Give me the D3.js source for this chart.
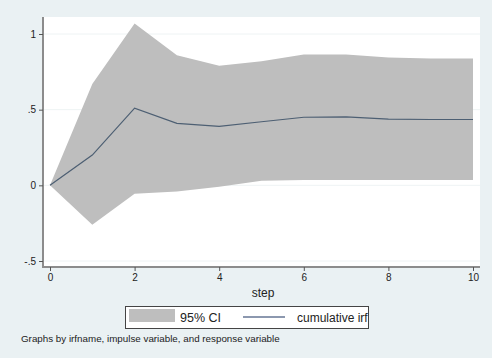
<!DOCTYPE html>
<html>
<head>
<meta charset="utf-8">
<script src="https://cdn.jsdelivr.net/npm/d3@7"></script>
<style>
  body { margin: 0; background: #eaf1f3; }
  svg { display: block; font-family: Arial, "Liberation Sans", sans-serif; }
</style>
</head>
<body>
<div class="canvas"></div>
<script>
const steps = [0, 1, 2, 3, 4, 5, 6, 7, 8, 9, 10];
const irf   = [0, 0.20, 0.51, 0.41, 0.39, 0.42, 0.45, 0.452, 0.438, 0.435, 0.435];
const upper = [0, 0.67, 1.07, 0.86, 0.79, 0.82, 0.865, 0.865, 0.845, 0.838, 0.838];
const lower = [0, -0.26, -0.055, -0.04, -0.01, 0.03, 0.035, 0.035, 0.035, 0.035, 0.035];
const xTicks = [0, 2, 4, 6, 8, 10];
const yTicks = [-0.5, 0, 0.5, 1];
const yLabels = ['-.5', '0', '.5', '1'];

const dims = { width: 492, height: 358 };
const plot = { left: 44, right: 480, top: 17, bottom: 266 };

const svg = d3.select('.canvas')
    .append('svg')
    .attr('width', dims.width)
    .attr('height', dims.height)
;

svg.append('rect')
    .attr('width', dims.width)
    .attr('height', dims.height)
    .attr('fill', '#eaf1f3')
;

svg.append('rect')
    .attr('x', plot.left)
    .attr('y', plot.top)
    .attr('width', plot.right - plot.left)
    .attr('height', plot.bottom - plot.top)
    .attr('fill', '#fff')
;

const x = d3.scaleLinear().domain([0, 10]).range([50, 473]);
const y = d3.scaleLinear().domain([-0.5, 1]).range([261, 34]);

// faint grid lines
svg.append('g')
    .selectAll('line')
    .data(yTicks)
    .enter()
    .append('line')
        .attr('x1', plot.left)
        .attr('x2', plot.right)
        .attr('y1', d => y(d))
        .attr('y2', d => y(d))
        .attr('stroke', '#eef3f4')
        .attr('stroke-width', 1)
;

const rows = steps.map((s, i) => ({ s, irf: irf[i], lo: lower[i], hi: upper[i] }));

const area = d3.area()
    .x(d => x(d.s))
    .y0(d => y(d.lo))
    .y1(d => y(d.hi))
;

svg.append('path')
    .datum(rows)
    .attr('d', area)
    .attr('fill', '#bebebe')
;

const line = d3.line()
    .x(d => x(d.s))
    .y(d => y(d.irf))
;

svg.append('path')
    .datum(rows)
    .attr('d', line)
    .attr('fill', 'none')
    .attr('stroke', '#4d5f73')
    .attr('stroke-width', 1.2)
;

// axes
const xAxis = svg.append('g')
    .attr('transform', `translate(0, ${plot.bottom + 1})`)
    .call(d3.axisBottom(x).tickValues(xTicks).tickSize(4).tickPadding(3).tickFormat(d3.format('d')))
;
xAxis.select('.domain').attr('d', `M${plot.left - 1},0H${plot.right}`).attr('stroke', '#8c8c8c').attr('stroke-width', 2);

const yAxis = svg.append('g')
    .attr('transform', `translate(${plot.left - 1}, 0)`)
    .call(d3.axisLeft(y).tickValues(yTicks).tickSize(4).tickPadding(3).tickFormat((d, i) => yLabels[i]))
;
yAxis.select('.domain').attr('d', `M0,${plot.top}V${plot.bottom + 2}`).attr('stroke', '#8c8c8c').attr('stroke-width', 2);

svg.selectAll('.tick line').attr('stroke', '#555');
svg.selectAll('.tick text').attr('fill', '#222').style('font-size', '10px').style('font-family', 'Arial, "Liberation Sans", sans-serif');

svg.append('text')
    .attr('x', (plot.left + plot.right) / 2 + 1)
    .attr('y', 297)
    .attr('text-anchor', 'middle')
    .attr('font-size', 12)
    .attr('fill', '#222')
    .text('step')
;

// legend
const legend = svg.append('g');
legend.append('rect')
    .attr('x', 125.5).attr('y', 306.5)
    .attr('width', 243).attr('height', 22)
    .attr('fill', '#fff')
    .attr('stroke', '#444')
    .attr('stroke-width', 1)
;
legend.append('rect')
    .attr('x', 129).attr('y', 309)
    .attr('width', 46).attr('height', 13)
    .attr('fill', '#bebebe')
;
legend.append('text')
    .attr('x', 180).attr('y', 322)
    .attr('font-size', 12.5)
    .attr('fill', '#222')
    .text('95% CI')
;
legend.append('line')
    .attr('x1', 243).attr('x2', 285)
    .attr('y1', 317).attr('y2', 317)
    .attr('stroke', '#1a3260')
    .attr('stroke-width', 1.2)
;
legend.append('text')
    .attr('x', 297).attr('y', 322)
    .attr('font-size', 12)
    .attr('fill', '#222')
    .text('cumulative irf')
;

svg.append('text')
    .attr('x', 21).attr('y', 342)
    .attr('font-size', 9.8)
    .attr('fill', '#222')
    .text('Graphs by irfname, impulse variable, and response variable')
;
</script>
</body>
</html>
